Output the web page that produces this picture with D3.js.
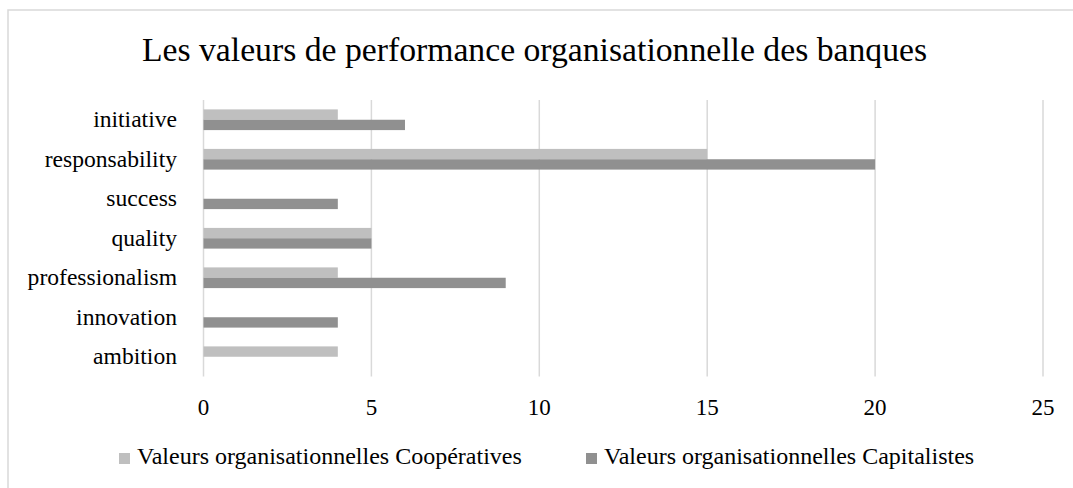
<!DOCTYPE html>
<html>
<head>
<meta charset="utf-8">
<script src="https://cdn.jsdelivr.net/npm/d3@7"></script>
<style>
  body { margin: 0; background: #fff; }
  text { font-family: "Liberation Serif", "Times New Roman", serif; fill: #000; }
</style>
</head>
<body>
<svg width="1073" height="488"></svg>
<script>
// data
const categories = ["initiative", "responsability", "success", "quality", "professionalism", "innovation", "ambition"];
const seriesNames = ["Valeurs organisationnelles Coopératives", "Valeurs organisationnelles Capitalistes"];
const cooperatives = [4, 15, 0, 5, 4, 0, 4];
const capitalistes = [6, 20, 4, 5, 9, 4, 0];
const xTicks = [0, 5, 10, 15, 20, 25];
const colors = ["#bfbfbf", "#909090"];

function drawChart() {
  const svg = d3.select("svg");

  // outer border (right/bottom fall outside the picture)
  svg.append("rect")
    .attr("x", 8).attr("y", 10)
    .attr("width", 1100).attr("height", 520)
    .attr("fill", "none")
    .attr("stroke", "#d9d9d9")
    .attr("stroke-width", 1.5);

  // title
  svg.append("text")
    .attr("x", 534.5).attr("y", 61)
    .attr("text-anchor", "middle")
    .attr("font-size", 33.7)
    .text("Les valeurs de performance organisationnelle des banques");

  const x = d3.scaleLinear().domain([0, 25]).range([203.5, 1043]);
  const y0 = d3.scaleBand().domain(categories).range([100, 376.5])
      .paddingInner(0.476).paddingOuter(0.238);
  const y1 = d3.scaleBand().domain([0, 1]).range([0, y0.bandwidth()]);

  // gridlines
  svg.append("g").selectAll("line")
    .data(xTicks)
    .join("line")
    .attr("x1", d => x(d)).attr("x2", d => x(d))
    .attr("y1", 100).attr("y2", 376.5)
    .attr("stroke", "#d9d9d9")
    .attr("stroke-width", 1.5);

  // bars
  const series = [cooperatives, capitalistes];
  series.forEach((vals, s) => {
    svg.append("g").selectAll("rect")
      .data(categories)
      .join("rect")
      .attr("x", x(0))
      .attr("y", (d) => y0(d) + y1(s))
      .attr("width", (d, i) => x(vals[i]) - x(0))
      .attr("height", y1.bandwidth())
      .attr("fill", colors[s]);
  });

  // category labels
  svg.append("g").selectAll("text")
    .data(categories)
    .join("text")
    .attr("x", 177)
    .attr("y", d => y0(d) + y0.bandwidth() / 2 + 7.5)
    .attr("text-anchor", "end")
    .attr("font-size", 23.6)
    .text(d => d);

  // x tick labels
  svg.append("g").selectAll("text")
    .data(xTicks)
    .join("text")
    .attr("x", d => x(d))
    .attr("y", 415)
    .attr("text-anchor", "middle")
    .attr("font-size", 23)
    .text(d => d);

  // legend
  const legendX = [119, 586];
  const legend = svg.append("g").selectAll("g")
    .data(seriesNames)
    .join("g")
    .attr("transform", (d, i) => `translate(${legendX[i]},453)`);
  legend.append("rect")
    .attr("width", 11).attr("height", 11)
    .attr("fill", (d, i) => colors[i]);
  legend.append("text")
    .attr("x", 18).attr("y", 11)
    .attr("font-size", 24)
    .text(d => d);
}

drawChart();
</script>
</body>
</html>
